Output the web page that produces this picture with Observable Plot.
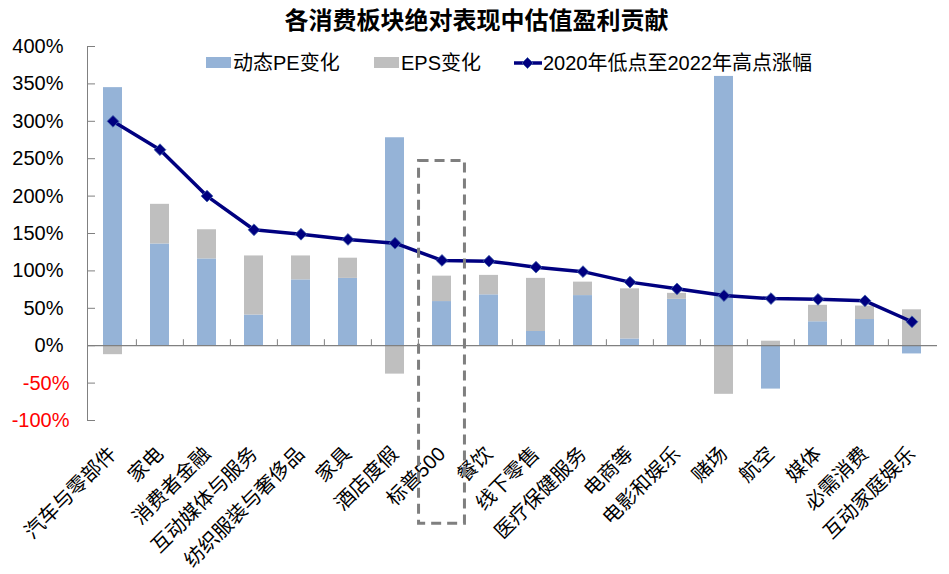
<!DOCTYPE html>
<html>
<head>
<meta charset="utf-8">
<script src="https://cdn.jsdelivr.net/npm/d3@7"></script>
<script src="https://cdn.jsdelivr.net/npm/@observablehq/plot@0.6"></script>
<style>
  html, body { margin: 0; padding: 0; background: #fff; }
  #chart { position: relative; width: 949px; height: 574px; font-family: "Liberation Sans", "Noto Sans CJK SC", sans-serif; }
  #title { position: absolute; left: 0; top: 0; width: 949px; height: 40px; line-height: 42px; text-align: center; text-indent: 4px;
           font-size: 24px; font-weight: bold; color: #000; }
  #plot { position: absolute; left: 0; top: 40px; }
  .leg { position: absolute; top: 52px; font-size: 20px; line-height: 22px; color: #000; white-space: nowrap; }
  .sw { position: absolute; top: 57px; width: 25px; height: 11px; }
</style>
</head>
<body>
<div id="chart">
  <div id="title">各消费板块绝对表现中估值盈利贡献</div>
  <div id="plot"></div>
</div>
<script>
const categories = ["汽车与零部件","家电","消费者金融","互动媒体与服务","纺织服装与奢侈品","家具","酒店度假","标普500","餐饮","线下零售","医疗保健服务","电商等","电影和娱乐","赌场","航空","媒体","必需消费","互动家庭娱乐"];
const peChange  = [345, 136, 116, 41, 88, 90, 278, 59, 68, 19, 67, 9, 62, 360, -58, 32, 35, -11];
const epsChange = [-12, 53, 39, 79, 32, 27, -38, 34, 26, 71, 18, 67, 8, -65, 6, 22, 18, 48];
const rally     = [300, 262, 200, 155, 149, 142, 137, 114, 113, 105, 99, 85, 76, 67, 63, 62, 60, 32];
const seriesNames = ["动态PE变化", "EPS变化", "2020年低点至2022年高点涨幅"];
const seriesColors = ["#95B3D7", "#BFBFBF", "#000080"];
const yTicks = [-100, -50, 0, 50, 100, 150, 200, 250, 300, 350, 400];
const highlight = {category: "标普500", top: 247, bottom: -238};

const W = 949, H = 534, mL = 87, mR = 12, mT = 6, mB = 154;
const step = (W - mL - mR) / categories.length;

const barData = [
  ...categories.map((c, i) => ({category: c, series: seriesNames[0], value: peChange[i]})),
  ...categories.map((c, i) => ({category: c, series: seriesNames[1], value: epsChange[i]}))
];
const lineData = categories.map((c, i) => ({category: c, value: rally[i]}));

const font = '"Liberation Sans", "Noto Sans CJK SC", sans-serif';

const plot = Plot.plot({
  width: W, height: H,
  marginLeft: mL, marginRight: mR, marginTop: mT, marginBottom: mB,
  style: {fontFamily: font, fontSize: "20px", color: "#000", background: "white", overflow: "visible"},
  x: {domain: categories, paddingInner: 0.59, paddingOuter: 0.295, axis: null},
  y: {domain: [-100, 400], axis: null},
  color: {domain: seriesNames.slice(0, 2), range: seriesColors.slice(0, 2)},
  marks: [
    Plot.barY(barData, Plot.stackY({x: "category", y: "value", fill: "series", z: "series"})),
    Plot.frame({anchor: "left", stroke: "#808080"}),
    Plot.ruleY([0], {stroke: "#808080", strokeWidth: 1.2}),
    Plot.tickY(yTicks, {y: d => d, stroke: "#808080", insetRight: W - mL - mR - 8}),
    Plot.ruleX(categories.slice(1), {x: d => d, y1: 0, y2: 8, dx: -step / 2, stroke: "#808080"}),
    Plot.axisY(yTicks.filter(d => d >= 0), {tickSize: 0, tickPadding: 24, tickFormat: d => d + "%", fontSize: 20, fill: "#000"}),
    Plot.axisY(yTicks.filter(d => d < 0), {tickSize: 0, tickPadding: 18, tickFormat: d => d + "%", fontSize: 20, fill: "#FF0000"}),
    Plot.text(categories, {x: d => d, frameAnchor: "bottom", rotate: -45, textAnchor: "end", lineAnchor: "middle", dy: 30, fontSize: 20, fill: "#000"}),
    Plot.line(lineData, {x: "category", y: "value", stroke: seriesColors[2], strokeWidth: 3.5}),
    Plot.dot(lineData, {x: "category", y: "value", symbol: "diamond2", r: 5.3, fill: seriesColors[2], stroke: "#3d5fa8", strokeWidth: 0.8}),
    Plot.barY([highlight], {x: "category", y1: "bottom", y2: "top", fill: "none", stroke: "#7f7f7f", strokeWidth: 3, strokeDasharray: "10,6",
      insetLeft: -(step * 0.98 - step * 0.41) / 2, insetRight: -(step * 0.98 - step * 0.41) / 2})
  ]
});
document.getElementById("plot").appendChild(plot);

// Legend
const chart = document.getElementById("chart");
function addSwatch(left, color) {
  const s = document.createElement("div");
  s.className = "sw"; s.style.left = left + "px"; s.style.background = color;
  chart.appendChild(s);
}
function addText(left, txt) {
  const t = document.createElement("div");
  t.className = "leg"; t.style.left = left + "px"; t.textContent = txt;
  chart.appendChild(t);
}
addSwatch(206, seriesColors[0]); addText(233, seriesNames[0]);
addSwatch(374, seriesColors[1]); addText(401, seriesNames[1]);
const ns = "http://www.w3.org/2000/svg";
const ls = document.createElementNS(ns, "svg");
ls.setAttribute("width", 30); ls.setAttribute("height", 16);
ls.style.position = "absolute"; ls.style.left = "513px"; ls.style.top = "55px";
ls.innerHTML = `<line x1="1" y1="8" x2="29" y2="8" stroke="${seriesColors[2]}" stroke-width="3.5"/>
  <path d="M14.5 2.5 L20 8 L14.5 13.5 L9 8 Z" fill="${seriesColors[2]}" stroke="#3d5fa8" stroke-width="0.8"/>`;
chart.appendChild(ls);
addText(543, seriesNames[2]);
</script>
</body>
</html>
